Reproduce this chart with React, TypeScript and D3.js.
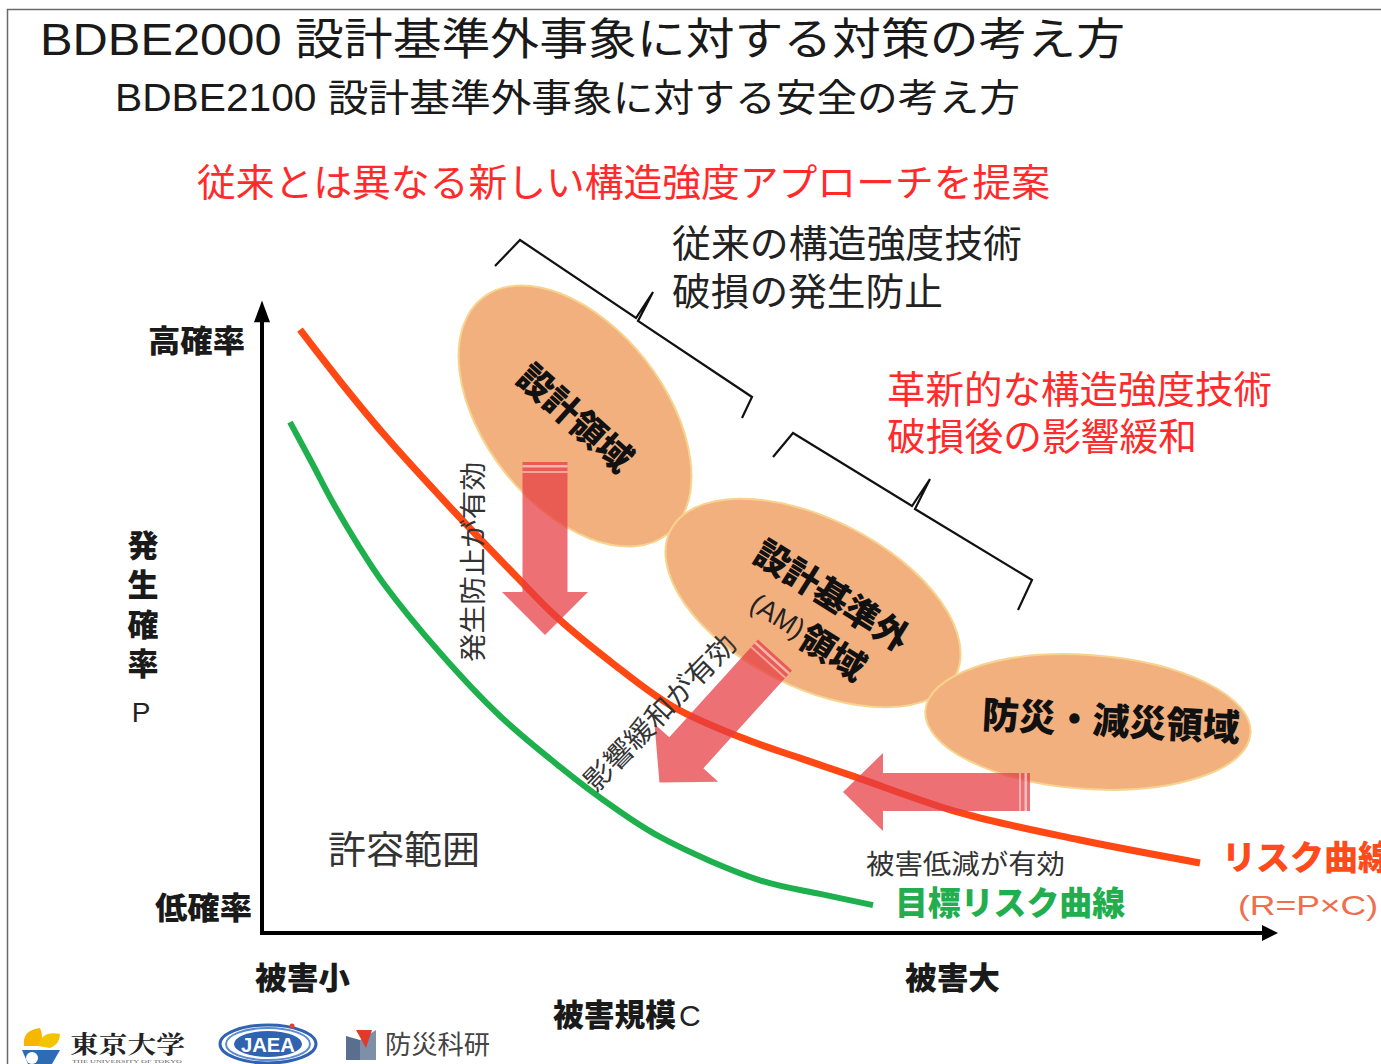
import React from 'react';
import * as d3 from 'd3';

// ---- data (conceptual units: damage scale C 0-100, probability P 0-100) ----
const riskCurveC = [3.8, 7.8, 12.1, 18.8, 25.5, 29.5, 35.3, 41.1, 47.8, 53.8, 59.1, 69.8, 81.8, 93.8];
const riskCurveP = [97.3, 89.0, 80.6, 68.7, 57.4, 50.9, 43.2, 36.5, 31.6, 28.2, 25.3, 19.4, 15.0, 11.3];
const targetCurveC = [2.8, 5.0, 7.1, 9.6, 12.1, 17.8, 23.8, 29.8, 34.1, 39.8, 49.8, 55.8, 61.1];
const targetCurveP = [82.4, 75.8, 69.4, 62.6, 56.5, 45.2, 35.0, 26.8, 21.5, 15.5, 8.5, 6.3, 4.5];

const titles = ['BDBE2000 設計基準外事象に対する対策の考え方', 'BDBE2100 設計基準外事象に対する安全の考え方'];
const proposal = '従来とは異なる新しい構造強度アプローチを提案';
const conventional = ['従来の構造強度技術', '破損の発生防止'];
const innovative = ['革新的な構造強度技術', '破損後の影響緩和'];
const yTickLabels = ['高確率', '低確率'];
const yAxisChars = ['発', '生', '確', '率'];
const xTickLabels = ['被害小', '被害大'];
const xAxisTitle = ['被害規模', 'C'];
const regionLabels = ['設計領域', '設計基準外', '(AM)', '領域', '防災・減災領域'];
const effectLabels = ['発生防止が有効', '影響緩和が有効', '被害低減が有効'];
const curveLabels = ['リスク曲線', '(R=P×C)', '目標リスク曲線'];
const areaLabel = '許容範囲';
const logoLabels = ['東京大学', 'JAEA', '防災科研', 'THE UNIVERSITY OF TOKYO'];

const CJK = "'Liberation Sans', Arial, 'Noto Sans CJK JP', sans-serif";

const T = ({ x, y, s, fill = '#222', weight = 400, anchor = 'start', len, rot, family = CJK, children }: any) => (
  <text
    x={x}
    y={y}
    fontSize={s}
    fontWeight={weight}
    fill={fill}
    textAnchor={anchor}
    dominantBaseline="central"
    fontFamily={family}
    textLength={len}
    lengthAdjust={len ? 'spacingAndGlyphs' : undefined}
    transform={rot ? `rotate(${rot} ${x} ${y})` : undefined}
  >
    {children}
  </text>
);

const arrowPath = (len: number, sh: number, hh: number, hl: number) =>
  `M0,${-sh}L${len - hl},${-sh}L${len - hl},${-hh}L${len},0L${len - hl},${hh}L${len - hl},${sh}L0,${sh}Z`;

const Arrow = ({ x, y, ang, len, sh, hh, hl }: any) => (
  <g transform={`translate(${x},${y}) rotate(${ang})`}>
    <path d={arrowPath(len, sh, hh, hl)} fill="#e63e44" opacity={0.74} />
    <rect x={3} y={-sh} width={2.5} height={2 * sh} fill="#fff" opacity={0.55} />
    <rect x={9} y={-sh} width={2} height={2 * sh} fill="#fff" opacity={0.45} />
  </g>
);

const Bracket = ({ pts }: any) => (
  <path d={d3.line()(pts) as string} fill="none" stroke="#111" strokeWidth={2.2} strokeLinejoin="miter" />
);

export default function App() {
  const W = 1381, H = 1064;
  const x = d3.scaleLinear().domain([0, 100]).range([262, 1262]);
  const y = d3.scaleLinear().domain([0, 100]).range([933, 313]);

  const line = d3
    .line<[number, number]>()
    .x((d) => x(d[0]))
    .y((d) => y(d[1]))
    .curve(d3.curveCatmullRom.alpha(0.5));

  const riskPts = riskCurveC.map((c, i) => [c, riskCurveP[i]] as [number, number]);
  const targetPts = targetCurveC.map((c, i) => [c, targetCurveP[i]] as [number, number]);

  const ellFill = '#f3b07f';
  const ellStroke = '#f6d48e';

  return (
    <svg width={W} height={H} style={{ position: 'absolute', left: 0, top: 0, background: '#fff' }}>
      <rect x={0} y={0} width={W} height={H} fill="#fff" />
      <rect x={7.5} y={9.5} width={1400} height={1100} fill="none" stroke="#6a6a6a" strokeWidth={1.5} />

      {/* titles */}
      <T x={40} y={39} s={44} len={1085} fill="#1a1a1a">{titles[0]}</T>
      <T x={115} y={98} s={38} len={905} fill="#1a1a1a">{titles[1]}</T>
      <T x={197} y={183} s={38} len={853} fill="#ff2a2a">{proposal}</T>
      <T x={672} y={244} s={38} len={350} fill="#222">{conventional[0]}</T>
      <T x={672} y={292} s={38} len={271} fill="#222">{conventional[1]}</T>
      <T x={887} y={390} s={38} len={385} fill="#ff2a2a">{innovative[0]}</T>
      <T x={887} y={437} s={38} len={310} fill="#ff2a2a">{innovative[1]}</T>

      {/* brackets */}
      <Bracket pts={[[495, 266], [520, 240], [636, 318], [653, 292], [638, 321], [752, 397], [742, 418]]} />
      <Bracket pts={[[773, 457], [793, 433], [912, 506], [930, 479], [915, 509], [1032, 580], [1018, 610]]} />

      {/* axes */}
      <line x1={x(0)} y1={y(-0.3)} x2={x(0)} y2={y(99)} stroke="#000" strokeWidth={4} />
      <path d={`M${x(0)},${y(102)}L${x(0) - 8},${y(98.5)}L${x(0) + 8},${y(98.5)}Z`} fill="#000" />
      <line x1={x(-0.2)} y1={y(0)} x2={x(100.3)} y2={y(0)} stroke="#000" strokeWidth={4} />
      <path d={`M${x(101.6)},${y(0)}L${x(100)},${y(0) - 8}L${x(100)},${y(0) + 8}Z`} fill="#000" />

      {/* curves */}
      <path d={line(riskPts) as string} fill="none" stroke="#ff4814" strokeWidth={7} />
      <path d={line(targetPts) as string} fill="none" stroke="#1fb04e" strokeWidth={6} />

      {/* region ellipses */}
      <ellipse cx={0} cy={0} rx={150} ry={90} fill={ellFill} stroke={ellStroke} strokeWidth={2} transform="translate(575,416) rotate(52)" />
      <ellipse cx={0} cy={0} rx={160} ry={84} fill={ellFill} stroke={ellStroke} strokeWidth={2} transform="translate(813,603) rotate(27)" />
      <ellipse cx={0} cy={0} rx={163} ry={67} fill={ellFill} stroke={ellStroke} strokeWidth={2} transform="translate(1088,722) rotate(4)" />

      {/* arrows */}
      <Arrow x={545} y={462} ang={90} len={173} sh={22.5} hh={43} hl={43} />
      <Arrow x={775} y={655} ang={132.2} len={172} sh={23} hh={43} hl={40} />
      <Arrow x={1030} y={792} ang={180} len={187} sh={19} hh={39} hl={40} />

      {/* region labels */}
      <T x={575} y={418} s={35} weight={900} anchor="middle" len={140} rot={42} fill="#111">{regionLabels[0]}</T>
      <g transform="translate(819,616) rotate(32)">
        <T x={0} y={-24} s={35} weight={900} anchor="middle" len={175} fill="#111">{regionLabels[1]}</T>
        <T x={-64} y={22} s={28} weight={400} anchor="start" len={58} fill="#222">{regionLabels[2]}</T>
        <T x={-4} y={24} s={35} weight={900} anchor="start" len={70} fill="#111">{regionLabels[3]}</T>
      </g>
      <T x={1111} y={722} s={37} weight={900} anchor="middle" len={258} rot={3} fill="#111">{regionLabels[4]}</T>

      {/* effect labels */}
      <T x={474} y={562} s={27} anchor="middle" len={200} rot={-90} fill="#333">{effectLabels[0]}</T>
      <T x={660} y={713} s={28} anchor="middle" len={205} rot={-46} fill="#333">{effectLabels[1]}</T>
      <T x={866} y={865} s={27} len={199} fill="#333">{effectLabels[2]}</T>

      {/* curve labels */}
      <T x={1222} y={858} s={34} weight={900} len={170} fill="#ff4a1c">{curveLabels[0]}</T>
      <T x={1238} y={905} s={28} len={140} fill="#ee6e4e">{curveLabels[1]}</T>
      <T x={895} y={903} s={33} weight={900} len={230} fill="#22ae4f">{curveLabels[2]}</T>

      <T x={328} y={850} s={38} len={152} fill="#333">{areaLabel}</T>

      {/* axis labels */}
      <T x={148} y={341} s={31} weight={900} len={97} fill="#1a1a1a">{yTickLabels[0]}</T>
      <T x={155} y={908} s={31} weight={900} len={97} fill="#1a1a1a">{yTickLabels[1]}</T>
      {yAxisChars.map((c, i) => (
        <T key={c} x={143} y={546 + i * 39.5} s={31} weight={900} anchor="middle" fill="#1a1a1a">{c}</T>
      ))}
      <T x={141} y={712} s={28} anchor="middle" fill="#222">P</T>
      <T x={255} y={978} s={31} weight={900} len={95} fill="#1a1a1a">{xTickLabels[0]}</T>
      <T x={905} y={978} s={31} weight={900} len={95} fill="#1a1a1a">{xTickLabels[1]}</T>
      <T x={553} y={1015} s={31} weight={900} len={123} fill="#1a1a1a">{xAxisTitle[0]}</T>
      <T x={679} y={1015} s={30} fill="#222">{xAxisTitle[1]}</T>

      {/* logos */}
      <g>
        <path d="M24,1046 Q22,1030 40,1028 Q44,1036 40,1046 Z" fill="#f5b800" />
        <path d="M38,1046 Q42,1030 60,1034 Q60,1044 50,1048 Z" fill="#f5c400" />
        <path d="M22,1050 L60,1050 L52,1064 L28,1064 Z" fill="#2d6cb5" />
        <circle cx={32} cy={1058} r={6} fill="#fff" />
        <T x={70} y={1042} s={24} weight={700} len={115} fill="#222" family="'Noto Serif CJK JP', 'Noto Sans CJK JP', serif">{logoLabels[0]}</T>
        <text x={72} y={1063} fontSize={5} fill="#666" fontFamily="Liberation Serif" textLength={110} lengthAdjust="spacingAndGlyphs">{logoLabels[3]}</text>
      </g>
      <g>
        <ellipse cx={268} cy={1044} rx={48} ry={19} fill="none" stroke="#2f62b0" strokeWidth={3} />
        <ellipse cx={268} cy={1044} rx={42} ry={16} fill="none" stroke="#5c8bd0" strokeWidth={2} />
        <ellipse cx={268} cy={1044} rx={34} ry={13} fill="#2f62b0" />
        <circle cx={292} cy={1026} r={2.5} fill="#e04030" />
        <T x={268} y={1045} s={20} weight={900} anchor="middle" len={54} fill="#fff">{logoLabels[1]}</T>
      </g>
      <g>
        <path d="M346,1036 L360,1040 L360,1060 L346,1060 Z" fill="#5a6f8f" />
        <path d="M360,1040 L376,1030 L376,1060 L360,1060 Z" fill="#7e8fa8" />
        <path d="M356,1030 L366,1048 L372,1030 Z" fill="#e23a2a" />
        <T x={385} y={1045} s={26} len={105} fill="#444">{logoLabels[2]}</T>
      </g>
    </svg>
  );
}
